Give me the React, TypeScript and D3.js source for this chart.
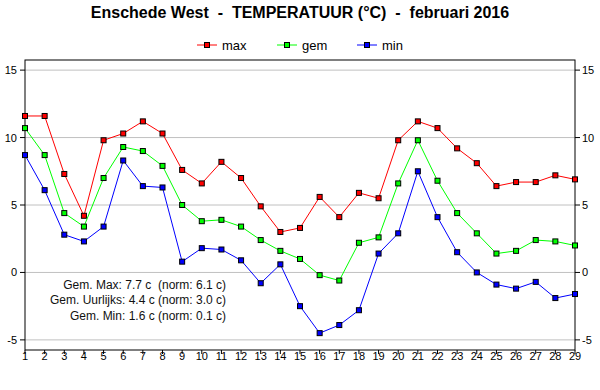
import React from "react";
import * as d3 from "d3";

const days = d3.range(1, 30);
const maxTemp = [11.6, 11.6, 7.3, 4.2, 9.8, 10.3, 11.2, 10.3, 7.6, 6.6, 8.2, 7.0, 4.9, 3.0, 3.3, 5.6, 4.1, 5.9, 5.5, 9.8, 11.2, 10.7, 9.2, 8.1, 6.4, 6.7, 6.7, 7.2, 6.9];
const gemTemp = [10.7, 8.7, 4.4, 3.4, 7.0, 9.3, 9.0, 7.9, 5.0, 3.8, 3.9, 3.4, 2.4, 1.6, 1.0, -0.2, -0.6, 2.2, 2.6, 6.6, 9.8, 6.8, 4.4, 2.9, 1.4, 1.6, 2.4, 2.3, 2.0];
const minTemp = [8.7, 6.1, 2.8, 2.3, 3.4, 8.3, 6.4, 6.3, 0.8, 1.8, 1.7, 0.9, -0.8, 0.6, -2.5, -4.5, -3.9, -2.8, 1.4, 2.9, 7.5, 4.1, 1.5, 0.0, -0.9, -1.2, -0.7, -1.9, -1.6];
const yTicks = [-5, 0, 5, 10, 15];
const seriesNames = ["max", "gem", "min"];
const seriesColors = ["#ff0000", "#00ff00", "#0000ff"];
const statLines = [
  "Gem. Max: 7.7 c  (norm: 6.1 c)",
  "Gem. Uurlijks: 4.4 c (norm: 3.0 c)",
  "Gem. Min: 1.6 c (norm: 0.1 c)",
];
const title = "Enschede West  -  TEMPERATUUR (°C)  -  februari 2016";

const W = 600, H = 390;
const L = 25, R = 575, T = 60, B = 350;
const font = "'Liberation Sans', Arial, sans-serif";

export default function App() {
  const x = d3.scaleLinear().domain([1, 29]).range([L, R]);
  const y = d3.scaleLinear().domain([-5.75, 15.75]).range([B, T]);
  const data = [maxTemp, gemTemp, minTemp];
  const line = d3.line<number>().x((_, i) => x(days[i])).y((d) => y(d));
  const legendX = [197, 277, 357];

  return (
    <svg width={W} height={H} style={{ position: "absolute", left: 0, top: 0, background: "#fff" }}>
      <rect x={0} y={0} width={W} height={H} fill="#fff" />
      <text x={300} y={17.5} textAnchor="middle" fontFamily={font} fontWeight="bold" fontSize={16} style={{ whiteSpace: "pre" }}>
        {title}
      </text>
      {seriesNames.map((n, i) => (
        <g key={n}>
          <line x1={legendX[i]} x2={legendX[i] + 20} y1={45} y2={45} stroke={seriesColors[i]} strokeWidth={1} />
          <rect x={legendX[i] + 10 - 2.5} y={42.5} width={5} height={5} fill={seriesColors[i]} stroke="#000" strokeWidth={1} />
          <text x={legendX[i] + 25} y={50} fontFamily={font} fontSize={13}>{n}</text>
        </g>
      ))}
      {yTicks.map((t) => (
        <g key={t}>
          <line x1={L} x2={R} y1={y(t)} y2={y(t)} stroke="#c0c0c0" strokeWidth={1} />
          <line x1={L - 5} x2={L} y1={y(t)} y2={y(t)} stroke="#000" />
          <line x1={R} x2={R + 5} y1={y(t)} y2={y(t)} stroke="#000" />
          <text x={L - 8} y={y(t) + 4} textAnchor="end" fontFamily={font} fontSize={11}>{t}</text>
          <text x={R + 7} y={y(t) + 4} textAnchor="start" fontFamily={font} fontSize={11}>{t}</text>
        </g>
      ))}
      {days.map((d) => (
        <g key={d}>
          <line x1={x(d)} x2={x(d)} y1={B} y2={B + 4} stroke="#000" />
          <text x={x(d)} y={B + 9.5} textAnchor="middle" fontFamily={font} fontSize={11}>{d}</text>
        </g>
      ))}
      <rect x={L} y={T} width={R - L} height={B - T} fill="none" stroke="#000" strokeWidth={1} />
      {statLines.map((s, i) => (
        <text key={i} x={226} y={289 + i * 15.3} textAnchor="end" fontFamily={font} fontSize={12} fill="#111" style={{ whiteSpace: "pre" }}>
          {s}
        </text>
      ))}
      {data.map((vals, si) => (
        <g key={si}>
          <path d={line(vals) || ""} fill="none" stroke={seriesColors[si]} strokeWidth={1} />
          {vals.map((v, i) => (
            <rect key={i} x={x(days[i]) - 2.5} y={y(v) - 2.5} width={5} height={5} fill={seriesColors[si]} stroke="#000" strokeWidth={1} />
          ))}
        </g>
      ))}
    </svg>
  );
}
